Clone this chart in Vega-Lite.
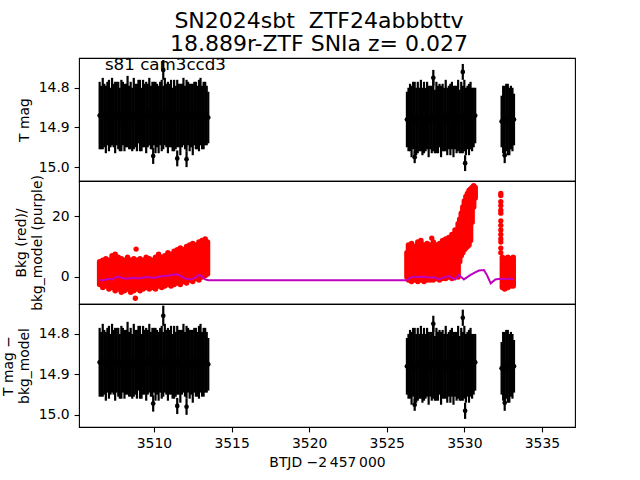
{
"$schema": "https://vega.github.io/schema/vega-lite/v6.json",
"autosize": {"type": "pad"},
"padding": {"left": 0, "top": 9, "right": 0, "bottom": 0},
"background": "white",
"spacing": 0,
"bounds": "flush",
"title": {"text": ["SN2024sbt\u00a0 ZTF24abbbttv", "18.889r-ZTF SNIa z= 0.027"], "font": "DejaVu Sans", "fontSize": 22, "fontWeight": "normal", "color": "black", "anchor": "middle", "frame": "group", "offset": 1, "lineHeight": 23, "dx": -8},
"config": {
  "view": {"stroke": "black", "strokeWidth": 1.1},
  "font": "DejaVu Sans",
  "axis": {"labelFont": "DejaVu Sans", "labelFontSize": 13.9, "labelColor": "black", "titleFont": "DejaVu Sans", "titleFontSize": 13.9, "titleFontWeight": "normal", "titleColor": "black", "titleLineHeight": 16, "tickColor": "black", "tickSize": 4.9, "tickWidth": 1.1, "domain": false, "grid": false, "labelPadding": 4.9}
},
"datasets": {
  "lc": [
    {"t":3506.5,"m":14.87,"e":0.085},{"t":3506.6,"m":14.875,"e":0.08},{"t":3506.7,"m":14.865,"e":0.09},{"t":3506.8,"m":14.87,"e":0.08},{"t":3506.9,"m":14.88,"e":0.085},
    {"t":3507.0,"m":14.865,"e":0.08},{"t":3507.1,"m":14.87,"e":0.09},{"t":3507.2,"m":14.875,"e":0.075},{"t":3507.3,"m":14.86,"e":0.085},{"t":3507.4,"m":14.87,"e":0.08},
    {"t":3507.5,"m":14.875,"e":0.09},{"t":3507.6,"m":14.865,"e":0.08},{"t":3507.7,"m":14.87,"e":0.085},{"t":3507.8,"m":14.88,"e":0.08},{"t":3507.9,"m":14.87,"e":0.09},
    {"t":3508.0,"m":14.865,"e":0.08},{"t":3508.1,"m":14.875,"e":0.085},{"t":3508.2,"m":14.87,"e":0.08},{"t":3508.3,"m":14.86,"e":0.09},{"t":3508.4,"m":14.875,"e":0.08},
    {"t":3508.5,"m":14.87,"e":0.085},{"t":3508.6,"m":14.88,"e":0.08},{"t":3508.7,"m":14.865,"e":0.09},{"t":3508.8,"m":14.87,"e":0.08},{"t":3508.9,"m":14.875,"e":0.085},
    {"t":3509.0,"m":14.86,"e":0.08},{"t":3509.1,"m":14.87,"e":0.09},{"t":3509.2,"m":14.88,"e":0.08},{"t":3509.3,"m":14.865,"e":0.085},{"t":3509.4,"m":14.87,"e":0.08},
    {"t":3509.5,"m":14.875,"e":0.09},{"t":3509.6,"m":14.87,"e":0.08},{"t":3509.7,"m":14.86,"e":0.085},{"t":3509.8,"m":14.875,"e":0.08},{"t":3509.9,"m":14.87,"e":0.085},
    {"t":3510.0,"m":14.865,"e":0.08},{"t":3510.1,"m":14.875,"e":0.09},{"t":3510.2,"m":14.87,"e":0.08},{"t":3510.3,"m":14.88,"e":0.085},{"t":3510.4,"m":14.865,"e":0.08},
    {"t":3510.5,"m":14.87,"e":0.09},{"t":3510.6,"m":14.875,"e":0.08},{"t":3510.7,"m":14.86,"e":0.085},{"t":3510.8,"m":14.87,"e":0.08},{"t":3510.9,"m":14.875,"e":0.09},
    {"t":3511.0,"m":14.87,"e":0.08},{"t":3511.1,"m":14.865,"e":0.085},{"t":3511.2,"m":14.88,"e":0.08},{"t":3511.3,"m":14.87,"e":0.09},{"t":3511.4,"m":14.875,"e":0.08},
    {"t":3511.5,"m":14.865,"e":0.085},{"t":3511.6,"m":14.87,"e":0.08},{"t":3511.7,"m":14.88,"e":0.09},{"t":3511.8,"m":14.87,"e":0.08},{"t":3511.9,"m":14.86,"e":0.085},
    {"t":3512.0,"m":14.875,"e":0.08},{"t":3512.1,"m":14.87,"e":0.09},{"t":3512.2,"m":14.865,"e":0.08},{"t":3512.3,"m":14.875,"e":0.085},{"t":3512.4,"m":14.87,"e":0.08},
    {"t":3512.5,"m":14.88,"e":0.09},{"t":3512.6,"m":14.865,"e":0.08},{"t":3512.7,"m":14.87,"e":0.085},{"t":3512.8,"m":14.875,"e":0.08},{"t":3512.9,"m":14.87,"e":0.09},
    {"t":3513.0,"m":14.86,"e":0.085},{"t":3513.1,"m":14.875,"e":0.08},{"t":3513.2,"m":14.87,"e":0.085},{"t":3513.3,"m":14.865,"e":0.08},{"t":3513.4,"m":14.87,"e":0.075},{"t":3513.5,"m":14.875,"e":0.065},
    {"t":3526.3,"m":14.88,"e":0.07},{"t":3526.4,"m":14.88,"e":0.08},{"t":3526.5,"m":14.875,"e":0.085},{"t":3526.6,"m":14.885,"e":0.09},{"t":3526.7,"m":14.87,"e":0.085},
    {"t":3526.8,"m":14.88,"e":0.095},{"t":3526.9,"m":14.885,"e":0.085},{"t":3527.0,"m":14.875,"e":0.09},{"t":3527.1,"m":14.88,"e":0.08},{"t":3527.2,"m":14.87,"e":0.09},
    {"t":3527.3,"m":14.885,"e":0.085},{"t":3527.4,"m":14.875,"e":0.09},{"t":3527.5,"m":14.88,"e":0.08},{"t":3527.6,"m":14.87,"e":0.085},{"t":3527.7,"m":14.885,"e":0.09},
    {"t":3527.8,"m":14.875,"e":0.08},{"t":3527.9,"m":14.88,"e":0.085},{"t":3528.0,"m":14.87,"e":0.09},{"t":3528.1,"m":14.885,"e":0.08},{"t":3528.2,"m":14.875,"e":0.09},
    {"t":3528.3,"m":14.88,"e":0.085},{"t":3528.4,"m":14.87,"e":0.08},{"t":3528.5,"m":14.885,"e":0.09},{"t":3528.6,"m":14.875,"e":0.085},{"t":3528.7,"m":14.88,"e":0.08},
    {"t":3528.8,"m":14.87,"e":0.09},{"t":3528.9,"m":14.885,"e":0.085},{"t":3529.0,"m":14.875,"e":0.08},{"t":3529.1,"m":14.88,"e":0.09},{"t":3529.2,"m":14.87,"e":0.085},
    {"t":3529.3,"m":14.885,"e":0.09},{"t":3529.4,"m":14.875,"e":0.08},{"t":3529.5,"m":14.88,"e":0.085},{"t":3529.6,"m":14.87,"e":0.09},{"t":3529.7,"m":14.885,"e":0.08},
    {"t":3529.8,"m":14.875,"e":0.09},{"t":3529.9,"m":14.88,"e":0.085},{"t":3530.0,"m":14.87,"e":0.09},{"t":3530.1,"m":14.885,"e":0.085},{"t":3530.2,"m":14.875,"e":0.08},
    {"t":3530.3,"m":14.88,"e":0.09},{"t":3530.4,"m":14.87,"e":0.085},{"t":3530.5,"m":14.88,"e":0.08},{"t":3530.6,"m":14.875,"e":0.075},{"t":3530.7,"m":14.87,"e":0.07},
    {"t":3532.4,"m":14.885,"e":0.065},{"t":3532.5,"m":14.88,"e":0.085},{"t":3532.6,"m":14.885,"e":0.09},{"t":3532.7,"m":14.875,"e":0.085},{"t":3532.8,"m":14.88,"e":0.09},
    {"t":3532.9,"m":14.885,"e":0.085},{"t":3533.0,"m":14.875,"e":0.08},{"t":3533.1,"m":14.88,"e":0.08},{"t":3533.2,"m":14.88,"e":0.065},
    {"t":3509.95,"m":14.972,"e":0.02},{"t":3510.6,"m":14.755,"e":0.025},{"t":3511.5,"m":14.978,"e":0.02},{"t":3512.1,"m":14.98,"e":0.02},
    {"t":3528.0,"m":14.775,"e":0.02},{"t":3529.9,"m":14.76,"e":0.02},{"t":3530.05,"m":14.99,"e":0.02},{"t":3532.6,"m":14.97,"e":0.02},{"t":3526.8,"m":14.975,"e":0.015}
  ],
  "bkg": [
    {"t":3506.5,"lo":-2.5,"hi":5},{"t":3506.7,"lo":-3.5,"hi":5.5},{"t":3506.9,"lo":-3,"hi":6},{"t":3507.1,"lo":-4,"hi":5.5},{"t":3507.3,"lo":-3.5,"hi":7},
    {"t":3507.5,"lo":-4.5,"hi":7.5},{"t":3507.7,"lo":-4,"hi":6.5},{"t":3507.9,"lo":-5,"hi":6},{"t":3508.1,"lo":-4.5,"hi":5.5},{"t":3508.3,"lo":-4,"hi":6.5},
    {"t":3508.5,"lo":-5,"hi":5.5},{"t":3508.7,"lo":-4.5,"hi":6},{"t":3508.9,"lo":-4,"hi":5.5},{"t":3509.1,"lo":-4.5,"hi":6},{"t":3509.3,"lo":-4,"hi":5.5},
    {"t":3509.5,"lo":-3.5,"hi":6.5},{"t":3509.7,"lo":-4,"hi":6},{"t":3509.9,"lo":-3.5,"hi":5.5},{"t":3510.1,"lo":-4,"hi":6.5},{"t":3510.3,"lo":-3,"hi":7.5},
    {"t":3510.5,"lo":-3.5,"hi":6.5},{"t":3510.7,"lo":-3,"hi":7},{"t":3510.9,"lo":-2.5,"hi":8},{"t":3511.1,"lo":-3,"hi":7.5},{"t":3511.3,"lo":-2.5,"hi":8.5},
    {"t":3511.5,"lo":-2,"hi":9},{"t":3511.7,"lo":-2.5,"hi":9.5},{"t":3511.9,"lo":-1.5,"hi":9},{"t":3512.1,"lo":-2,"hi":10},{"t":3512.3,"lo":-1,"hi":10.5},
    {"t":3512.5,"lo":-1.5,"hi":11},{"t":3512.7,"lo":-0.5,"hi":10.5},{"t":3512.9,"lo":-1,"hi":11.5},{"t":3513.1,"lo":0,"hi":12},{"t":3513.3,"lo":0.5,"hi":12.5},{"t":3513.45,"lo":1,"hi":11.5},
    {"t":3526.3,"lo":0,"hi":8},{"t":3526.4,"lo":-1,"hi":10.5},{"t":3526.6,"lo":-1.5,"hi":11},{"t":3526.8,"lo":-1,"hi":10},{"t":3527.0,"lo":-1.5,"hi":11.5},
    {"t":3527.2,"lo":-1,"hi":12},{"t":3527.4,"lo":-1.5,"hi":10.5},{"t":3527.6,"lo":-1,"hi":11},{"t":3527.8,"lo":-1,"hi":10.5},{"t":3528.0,"lo":-1,"hi":11.5},
    {"t":3528.2,"lo":-0.5,"hi":10.5},{"t":3528.4,"lo":-1,"hi":11},{"t":3528.6,"lo":-0.5,"hi":12},{"t":3528.8,"lo":-0.5,"hi":12.5},{"t":3529.0,"lo":0,"hi":13},
    {"t":3529.2,"lo":-0.5,"hi":14},{"t":3529.4,"lo":0,"hi":15.5},{"t":3529.6,"lo":0,"hi":17.5},{"t":3529.7,"lo":5,"hi":19},{"t":3529.8,"lo":7,"hi":21},
    {"t":3529.9,"lo":8,"hi":23},{"t":3530.0,"lo":9,"hi":25},{"t":3530.1,"lo":9.5,"hi":26.5},{"t":3530.2,"lo":10,"hi":27.5},{"t":3530.3,"lo":10.5,"hi":28.5},
    {"t":3530.4,"lo":12,"hi":29},{"t":3530.5,"lo":18,"hi":29.5},{"t":3530.6,"lo":23,"hi":30},{"t":3530.7,"lo":26,"hi":29.5},
    {"t":3532.45,"lo":-3.5,"hi":6.5},{"t":3532.6,"lo":-4,"hi":6},{"t":3532.8,"lo":-3.5,"hi":6.5},{"t":3533.0,"lo":-3,"hi":6},{"t":3533.15,"lo":-3,"hi":6.5}
  ],
  "bkgpts": [
    {"t":3508.85,"b":9.2},{"t":3508.8,"b":-7},{"t":3527.9,"b":12.8},
    {"t":3532.35,"b":27.5},{"t":3532.35,"b":26.8},{"t":3532.35,"b":24.8},{"t":3532.35,"b":23.5},{"t":3532.35,"b":22},{"t":3532.35,"b":21},
    {"t":3532.35,"b":18.5},{"t":3532.35,"b":17},{"t":3532.35,"b":15.5},{"t":3532.35,"b":14},{"t":3532.35,"b":12.5},{"t":3532.35,"b":11.5},
    {"t":3532.35,"b":9.5},{"t":3532.35,"b":8}
  ],
  "model": [
    {"t":3506.5,"bm":-1.0},{"t":3506.8,"bm":-1.1},{"t":3507.0,"bm":-0.6},{"t":3507.3,"bm":-0.8},{"t":3507.5,"bm":-0.2},{"t":3507.7,"bm":0.1},
    {"t":3508.0,"bm":-0.4},{"t":3508.3,"bm":-0.6},{"t":3508.6,"bm":-0.3},{"t":3509.0,"bm":-0.5},{"t":3509.3,"bm":-0.2},{"t":3509.6,"bm":0.0},
    {"t":3510.0,"bm":-0.3},{"t":3510.3,"bm":0.1},{"t":3510.6,"bm":0.3},{"t":3511.0,"bm":0.5},{"t":3511.3,"bm":0.8},{"t":3511.5,"bm":0.9},
    {"t":3511.8,"bm":0.1},{"t":3512.0,"bm":-0.5},{"t":3512.3,"bm":-0.8},{"t":3512.6,"bm":-0.4},{"t":3512.9,"bm":0.7},{"t":3513.1,"bm":0.2},
    {"t":3513.3,"bm":-0.8},{"t":3513.5,"bm":-1.1},{"t":3526.3,"bm":-1.1},{"t":3526.5,"bm":-0.3},{"t":3526.7,"bm":0.1},{"t":3527.0,"bm":0.0},
    {"t":3527.3,"bm":0.1},{"t":3527.6,"bm":-0.1},{"t":3527.9,"bm":-0.2},{"t":3528.1,"bm":-0.1},{"t":3528.35,"bm":-0.8},{"t":3528.6,"bm":-0.3},
    {"t":3529.0,"bm":0.3},{"t":3529.4,"bm":-0.8},{"t":3529.65,"bm":0.7},{"t":3529.97,"bm":-0.8},{"t":3530.4,"bm":0.7},{"t":3530.7,"bm":1.5},
    {"t":3530.94,"bm":2.1},{"t":3531.26,"bm":2.3},{"t":3531.45,"bm":0.7},{"t":3531.7,"bm":-2.1},{"t":3532.0,"bm":-0.8},{"t":3532.3,"bm":-0.6},
    {"t":3532.65,"bm":-0.7},{"t":3532.9,"bm":-0.5},{"t":3533.2,"bm":-0.8}
  ]
},
"vconcat": [
  {
    "width": 496, "height": 123,
    "layer": [
      {"data": {"name": "lc"}, "mark": {"type": "errorbar", "ticks": false, "color": "black", "thickness": 2.2},
       "encoding": {
         "x": {"field": "t", "type": "quantitative", "scale": {"domain": [3505.17, 3537.13], "nice": false, "zero": false}, "axis": null},
         "y": {"field": "m", "type": "quantitative", "scale": {"domain": [14.725, 15.035], "reverse": true, "nice": false, "zero": false}, "axis": {"values": [14.8, 14.9, 15.0], "format": ".1f", "title": "T mag", "titlePadding": 7}},
         "yError": {"field": "e"}
       }},
      {"data": {"name": "lc"}, "mark": {"type": "point", "shape": "circle", "filled": true, "color": "black", "size": 22, "opacity": 1, "strokeWidth": 0},
       "encoding": {
         "x": {"field": "t", "type": "quantitative"},
         "y": {"field": "m", "type": "quantitative"}
       }},
      {"data": {"values": [{"label": "s81 cam3ccd3"}]}, "mark": {"type": "text", "align": "left", "baseline": "alphabetic", "font": "DejaVu Sans", "fontSize": 16.7, "color": "black"},
       "encoding": {"x": {"datum": 3506.84}, "y": {"datum": 14.7554}, "text": {"field": "label"}}},
      {"mark": {"type": "rule", "color": "red", "strokeWidth": 2, "strokeDash": [5.5, 2.4]},
       "encoding": {"x": {"datum": 3535.64}}}
    ]
  },
  {
    "width": 496, "height": 123,
    "layer": [
      {"data": {"name": "bkg"}, "mark": {"type": "rule", "color": "red", "strokeWidth": 5.5, "strokeCap": "round"},
       "encoding": {
         "x": {"field": "t", "type": "quantitative", "scale": {"domain": [3505.17, 3537.13], "nice": false, "zero": false}, "axis": null},
         "y": {"field": "lo", "type": "quantitative", "scale": {"domain": [-8.9, 31.6], "nice": false, "zero": false}, "axis": {"values": [0, 20], "title": ["Bkg (red)/", "bkg_model (purple)"], "titlePadding": 7}},
         "y2": {"field": "hi"}
       }},
      {"data": {"name": "bkgpts"}, "mark": {"type": "point", "shape": "circle", "filled": true, "color": "red", "size": 28, "opacity": 1, "strokeWidth": 0},
       "encoding": {
         "x": {"field": "t", "type": "quantitative"},
         "y": {"field": "b", "type": "quantitative"}
       }},
      {"data": {"name": "model"}, "mark": {"type": "line", "color": "#bf00bf", "strokeWidth": 2},
       "encoding": {
         "x": {"field": "t", "type": "quantitative"},
         "y": {"field": "bm", "type": "quantitative"}
       }}
    ]
  },
  {
    "width": 496, "height": 123,
    "layer": [
      {"data": {"name": "lc"}, "mark": {"type": "errorbar", "ticks": false, "color": "black", "thickness": 2.2},
       "encoding": {
         "x": {"field": "t", "type": "quantitative", "scale": {"domain": [3505.17, 3537.13], "nice": false, "zero": false}, "axis": {"values": [3510, 3515, 3520, 3525, 3530, 3535], "format": "d", "title": "BTJD \u22122\u2009457\u2009000", "titlePadding": 5}},
         "y": {"field": "m", "type": "quantitative", "scale": {"domain": [14.726, 15.03], "reverse": true, "nice": false, "zero": false}, "axis": {"values": [14.8, 14.9, 15.0], "format": ".1f", "title": ["T mag \u2212", "bkg_model"], "titlePadding": 7}},
         "yError": {"field": "e"}
       }},
      {"data": {"name": "lc"}, "mark": {"type": "point", "shape": "circle", "filled": true, "color": "black", "size": 22, "opacity": 1, "strokeWidth": 0},
       "encoding": {
         "x": {"field": "t", "type": "quantitative"},
         "y": {"field": "m", "type": "quantitative"}
       }}
    ]
  }
]
}
